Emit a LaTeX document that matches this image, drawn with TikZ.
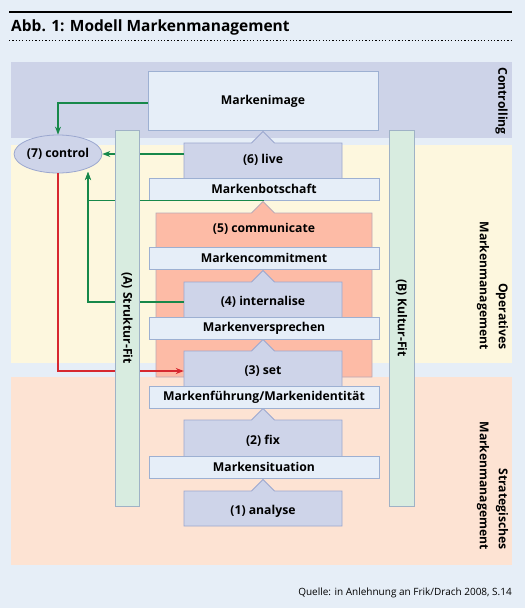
\documentclass[tikz,border=0pt]{standalone}
\usepackage{fontspec}
\setmainfont{Open Sans}
\usetikzlibrary{shapes.geometric,arrows.meta}
\definecolor{bg}{HTML}{E6EEF7}
\definecolor{ctrlband}{HTML}{CDD3E8}
\definecolor{opband}{HTML}{FDF7DE}
\definecolor{stband}{HTML}{FDE3D3}
\definecolor{stepfill}{HTML}{CED4E9}
\definecolor{stepdraw}{HTML}{9BA7CF}
\definecolor{lblfill}{HTML}{E6EEF8}
\definecolor{lbldraw}{HTML}{9DB0D2}
\definecolor{salmon}{HTML}{FDBBA6}
\definecolor{salmondraw}{HTML}{B9A9B6}
\definecolor{barfill}{HTML}{D8ECE0}
\definecolor{bardraw}{HTML}{9FB2C6}
\definecolor{gr}{HTML}{17884A}
\definecolor{rd}{HTML}{D7282F}
\newcommand\pent[6]{%
  \path[#1] (#2,#5) -- (#2,#4) -- ({#6-11.5},#4) -- ({#6},{#4-11.5}) -- ({#6+11.5},#4) -- (#3,#4) -- (#3,#5) -- cycle;}
\tikzset{
  txt/.style={font=\bfseries\fontsize{12.2}{14}\selectfont, text=black},
  stepsty/.style={fill=stepfill, draw=stepdraw, line width=0.8pt},
  salsty/.style={fill=salmon, draw=salmondraw, line width=0.8pt},
  lblbox/.style={draw=lbldraw, fill=lblfill, line width=0.8pt, minimum width=230pt, minimum height=22pt, inner sep=0pt, txt},
  stxt/.style={txt, minimum width=158pt, inner sep=0pt},
  conn/.style={line width=1.1pt, -{Stealth[length=8pt,width=6pt]}},
  barbox/.style={draw=bardraw, fill=barfill, line width=0.8pt, rotate=-90, inner sep=0pt, minimum width=376pt, txt},
  side/.style={txt, rotate=-90, anchor=east, align=right, inner sep=0pt}
}
\begin{document}
\begin{tikzpicture}[x=1pt,y=-1pt]
\useasboundingbox[fill=bg] (0,0) rectangle (525,608);
% header
\draw[line width=1.3pt] (9,12) -- (512,12);
\node[anchor=base west, inner sep=0pt, font=\bfseries\fontsize{15.5}{18}\selectfont] (title) at (11,31.5) {Abb. 1: Modell Markenmanagement};
\draw[dash pattern=on 1.2pt off 2.1pt, line width=0.9pt] (9,40) -- (512,40);
% bands
\fill[ctrlband] (11,62) rectangle (512,138);
\fill[opband] (11,145) rectangle (512,363);
\fill[stband] (11,377) rectangle (512,565);
\node[side] (lc) at (501.5,135) {Controlling};
\node[side, font=\bfseries\fontsize{12.2}{19}\selectfont] (lo) at (492.5,350) {Operatives\\Markenmanagement};
\node[side, font=\bfseries\fontsize{12.2}{19}\selectfont] (ls) at (492.5,550) {Strategisches\\Markenmanagement};
% top box
\node[draw=lbldraw, fill=lblfill, line width=0.8pt, minimum width=230pt, minimum height=59pt, inner sep=0pt, txt] (mi) at (263,101) {Markenimage};
% step shapes
\pent{salsty}{156}{372}{213}{377}{263}
\pent{stepsty}{184}{342}{143}{180}{263}
\pent{stepsty}{184}{342}{282}{320}{263}
\pent{stepsty}{184}{342}{351}{389}{263}
\pent{stepsty}{184}{342}{420}{459}{263}
\pent{stepsty}{184}{342}{491}{526}{263}
\node[stxt] (s6) at (263,160) {(6) live};
\node[stxt] (s5) at (264,229) {(5) communicate};
\node[stxt] (s4) at (263,302) {(4) internalise};
\node[stxt] (s3) at (263,371) {(3) set};
\node[stxt] (s2) at (263,441) {(2) fix};
\node[stxt] (s1) at (263,511) {(1) analyse};
% label boxes
\node[lblbox] (mb) at (264,189) {Markenbotschaft};
\node[lblbox] (mc) at (264,258) {Markencommitment};
\node[lblbox] (mv) at (264,328) {Markenversprechen};
\node[lblbox] (mf) at (264,397.5) {Markenführung/Markenidentität};
\node[lblbox] (ms) at (264,467) {Markensituation};
% control
\node[ellipse, draw=stepdraw, fill=stepfill, line width=0.8pt, minimum width=80pt, minimum height=38pt, inner sep=0pt, txt] (ctl) at (58,154) {(7) control};
% connectors
\coordinate (cin) at (88,172);
\draw[conn, gr] ([yshift=-2pt]mi.west) -| (ctl.north);
\draw[conn, gr] ([yshift=6pt]s6.west) -- (ctl.east);
\draw[conn, gr] (mb.south) -| (cin);
\draw[conn, gr] (s4.west) -| (cin);
\draw[conn, rd] (ctl.south) |- (s3.west);
% fit bars
\node[barbox, minimum height=24pt] (ba) at (127,318) {(A) Struktur-Fit};
\node[barbox, minimum height=25pt] (bb) at (401.5,318) {(B) Kultur-Fit};
% source
\node[anchor=base east, inner sep=0pt, font=\fontsize{10}{12}\selectfont] (src) at (512,595.5) {Quelle: in Anlehnung an Frik/Drach 2008, S.14};
\end{tikzpicture}
\end{document}
